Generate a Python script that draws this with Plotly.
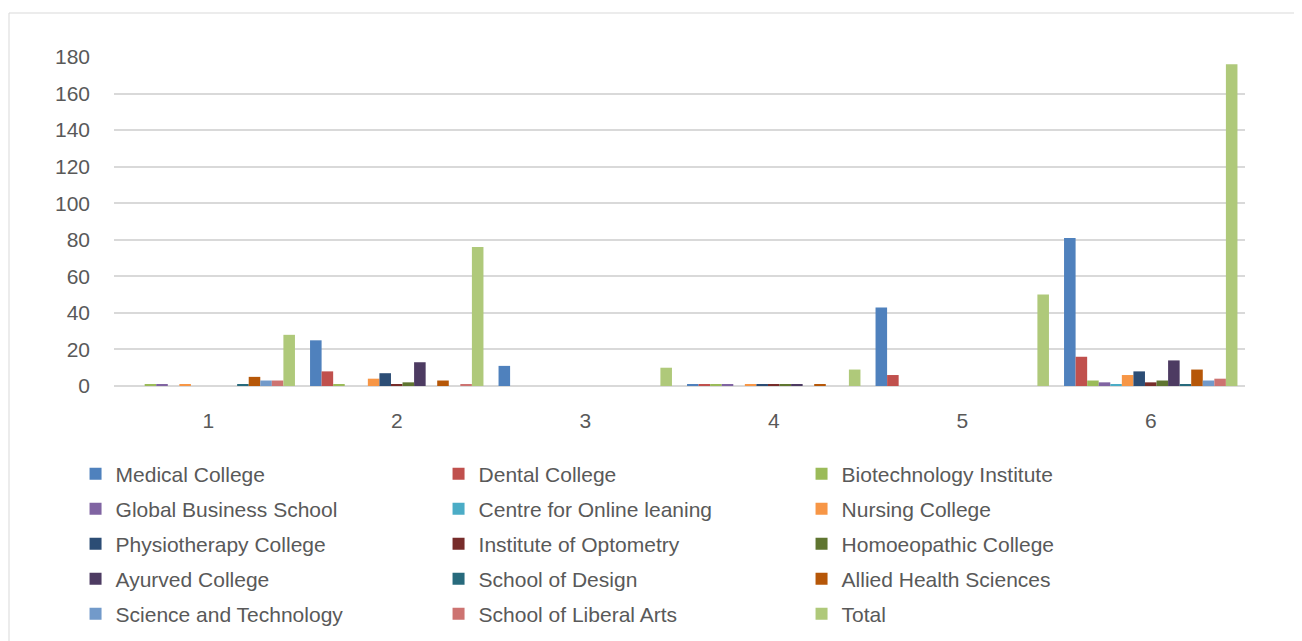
import plotly.graph_objects as go

categories = ["1", "2", "3", "4", "5", "6"]

series_names = [
    "Medical College", "Dental College", "Biotechnology Institute",
    "Global Business School", "Centre for Online leaning", "Nursing College",
    "Physiotherapy College", "Institute of Optometry", "Homoeopathic College",
    "Ayurved College", "School of Design", "Allied Health Sciences",
    "Science and Technology", "School of Liberal Arts", "Total",
]

medical = [0, 25, 11, 1, 43, 81]
dental = [0, 8, 0, 1, 6, 16]
biotech = [1, 1, 0, 1, 0, 3]
global_business = [1, 0, 0, 1, 0, 2]
online = [0, 0, 0, 0, 0, 1]
nursing = [1, 4, 0, 1, 0, 6]
physio = [0, 7, 0, 1, 0, 8]
optometry = [0, 1, 0, 1, 0, 2]
homoeo = [0, 2, 0, 1, 0, 3]
ayurved = [0, 13, 0, 1, 0, 14]
design = [1, 0, 0, 0, 0, 1]
allied = [5, 3, 0, 1, 0, 9]
science = [3, 0, 0, 0, 0, 3]
liberal = [3, 1, 0, 0, 0, 4]
total = [28, 76, 10, 9, 50, 176]

series_values = [medical, dental, biotech, global_business, online, nursing,
                 physio, optometry, homoeo, ayurved, design, allied,
                 science, liberal, total]

colors = ["#4F81BD", "#C0504D", "#9BBB59", "#8064A2", "#4BACC6", "#F79646",
          "#2C4D75", "#772C2A", "#5F7530", "#4D3B62", "#276A7C", "#B65708",
          "#729ACA", "#CD7371", "#AFC97A"]

y_ticks = [0, 20, 40, 60, 80, 100, 120, 140, 160, 180]

FONT = "Liberation Sans"
TXT = "#595959"
FS = 21

fig = go.Figure()
legend_ids = ["legend", "legend2", "legend3", "legend4", "legend5"]
for i, (name, vals, col) in enumerate(zip(series_names, series_values, colors)):
    fig.add_trace(go.Bar(
        x=categories, y=vals, name=name,
        marker=dict(color=col, line=dict(width=0)),
        legend=legend_ids[i // 3],
    ))

OFF = 8  # page body offset
W, H = 1302, 641
left_px, right_px = 114, 1245
top, bottom_px = 57, 386
pw = right_px - left_px
ph = bottom_px - top
row_y = [474, 509, 544, 579, 614]

legend_common = dict(
    orientation="h", x=-0.034, xanchor="left", yanchor="middle",
    entrywidth=318, entrywidthmode="pixels",
    font=dict(family=FONT, size=FS, color=TXT),
    bgcolor="rgba(0,0,0,0)", itemclick=False, itemdoubleclick=False,
)
legend_layout = {}
for k, lid in enumerate(legend_ids):
    legend_layout[lid] = dict(legend_common, y=(bottom_px - row_y[k]) / ph)

fig.update_layout(
    width=W, height=H,
    margin=dict(l=left_px - OFF, r=W - right_px + OFF, t=top - OFF,
                b=H - bottom_px + OFF, pad=0),
    paper_bgcolor="white", plot_bgcolor="white",
    barmode="group", bargap=0.08, bargroupgap=0,
    font=dict(family=FONT, size=FS, color=TXT),
    showlegend=True,
    xaxis=dict(type="category", showgrid=False, showline=False, zeroline=False,
               ticks="", ticklabelstandoff=20,
               tickfont=dict(family=FONT, size=FS, color=TXT)),
    yaxis=dict(range=[0, 180], tickvals=y_ticks, showgrid=True,
               gridcolor="#d9d9d9", gridwidth=2, zeroline=True,
               zerolinecolor="#d9d9d9", zerolinewidth=2, showline=False,
               ticks="", ticklabelstandoff=23,
               tickfont=dict(family=FONT, size=FS, color=TXT)),
    shapes=[dict(type="rect", xref="paper", yref="paper",
                 x0=(9 - left_px) / pw, x1=1.2, y0=-1.0,
                 y1=(bottom_px - 13) / ph,
                 line=dict(color="#d9d9d9", width=1), fillcolor="rgba(0,0,0,0)",
                 layer="below")],
    **legend_layout,
)

fig.write_html("out.html")
